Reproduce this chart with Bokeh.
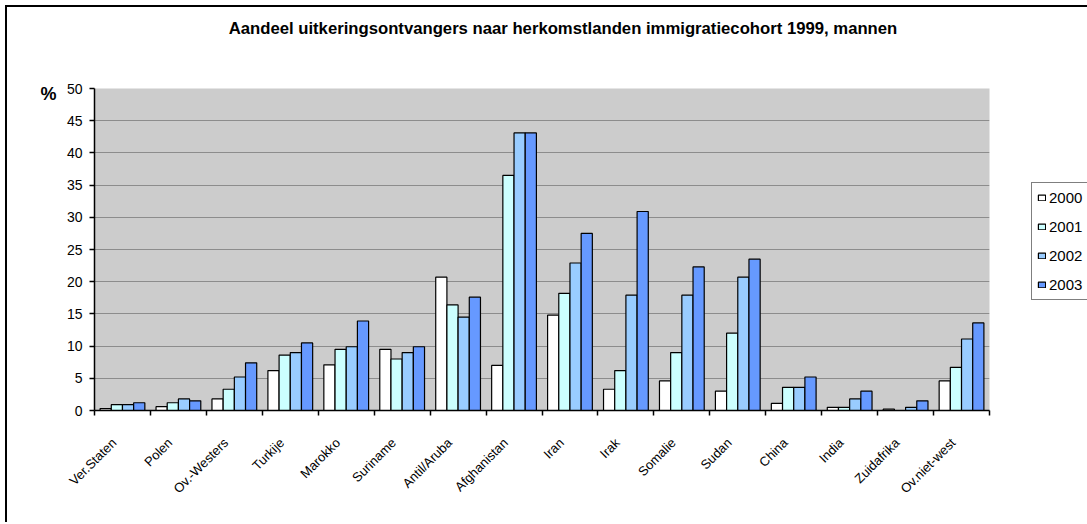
import math
from bokeh.plotting import figure
from bokeh.models import (Range1d, FixedTicker, Legend, LegendItem,
                          LinearAxis, ColumnDataSource)
from bokeh.transform import dodge
from bokeh.embed import file_html
from bokeh.resources import INLINE

# ---- data ----
countries = ["Ver.Staten", "Polen", "Ov.-Westers", "Turkije", "Marokko",
             "Suriname", "Antil/Aruba", "Afghanistan", "Iran", "Irak",
             "Somalie", "Sudan", "China", "India", "Zuidafrika", "Ov.niet-west"]
years = ["2000", "2001", "2002", "2003"]
v2000 = [0.3, 0.6, 1.8, 6.2, 7.1, 9.5, 20.7, 7.0, 14.8, 3.3, 4.6, 3.0, 1.1, 0.5, 0.2, 4.6]
v2001 = [0.9, 1.2, 3.3, 8.6, 9.5, 8.0, 16.4, 36.5, 18.2, 6.2, 9.0, 12.0, 3.6, 0.5, 0.0, 6.7]
v2002 = [0.9, 1.8, 5.2, 9.0, 9.9, 9.0, 14.5, 43.1, 22.9, 17.9, 17.9, 20.7, 3.6, 1.8, 0.5, 11.1]
v2003 = [1.2, 1.5, 7.4, 10.5, 13.9, 9.9, 17.6, 43.1, 27.5, 30.9, 22.3, 23.5, 5.2, 3.0, 1.5, 13.6]
y_ticks = [0, 5, 10, 15, 20, 25, 30, 35, 40, 45, 50]
title_text = "Aandeel uitkeringsontvangers naar herkomstlanden immigratiecohort 1999, mannen"
unit_text = "%"

colors = ["#FFFFFF", "#CCFFFF", "#99CCFF", "#6699FF"]
FONT = "Liberation Sans"

n = len(countries)
centers = [i + 0.5 for i in range(n)]
source = ColumnDataSource(dict(x=centers, y2000=v2000, y2001=v2001,
                               y2002=v2002, y2003=v2003))

p = figure(frame_width=895, frame_height=322,
           x_range=Range1d(0, n), y_range=Range1d(0, 50),
           output_backend="svg", toolbar_location=None,
           min_border_left=87, min_border_top=81,
           min_border_right=96, min_border_bottom=112,
           background_fill_color="#CCCCCC", border_fill_color="white",
           outline_line_color=None)
p.styles = {"margin-left": "5px", "margin-top": "5px",
            "border-left": "2px solid black", "border-top": "2px solid black"}
p.title.text = ""

renderers = []
for j, yr in enumerate(years):
    r = p.vbar(x=dodge("x", -0.3 + 0.2 * j), top="y" + yr, width=0.2,
               fill_color=colors[j], line_color="black", line_width=1.2,
               source=source)
    renderers.append(r)

# x axis: boundary ticks as minor ticks, labels slightly left of centre
label_pos = [round(i + 0.35, 2) for i in range(n)]
xa = p.xaxis[0]
xa.ticker = FixedTicker(ticks=label_pos, minor_ticks=list(range(n + 1)))
xa.major_label_overrides = {pos: name for pos, name in zip(label_pos, countries)}
xa.axis_line_color = "black"
xa.axis_line_width = 1.5
xa.major_tick_line_color = None
xa.major_tick_out = 5
xa.major_tick_in = 0
xa.minor_tick_line_color = "black"
xa.minor_tick_line_width = 1.5
xa.minor_tick_out = 5
xa.minor_tick_in = 0
xa.major_label_orientation = math.pi / 4
xa.major_label_standoff = 25
xa.major_label_text_font = FONT
xa.major_label_text_font_size = "13px"
xa.major_label_text_color = "black"

ya = p.yaxis[0]
ya.ticker = FixedTicker(ticks=y_ticks, minor_ticks=[])
ya.axis_line_color = "black"
ya.axis_line_width = 1.5
ya.major_tick_line_color = "black"
ya.major_tick_line_width = 1.5
ya.major_tick_out = 5
ya.major_tick_in = 0
ya.minor_tick_line_color = None
ya.major_label_standoff = 7
ya.major_label_text_font = FONT
ya.major_label_text_font_size = "14px"
ya.major_label_text_color = "black"

# unit "%" as an outer left axis with a single labelled tick
unit_pos = 49.2
ua = LinearAxis(ticker=FixedTicker(ticks=[unit_pos], minor_ticks=[]),
                major_label_overrides={unit_pos: unit_text},
                axis_line_color=None, major_tick_line_color=None,
                minor_tick_line_color=None, major_tick_out=0, major_tick_in=0,
                major_label_standoff=7, major_label_text_font=FONT,
                major_label_text_font_style="bold",
                major_label_text_font_size="18px",
                major_label_text_color="black")
p.add_layout(ua, "left")

# chart title as a single labelled tick on an axis above the plot area
title_pos = 8.375
ta = LinearAxis(ticker=FixedTicker(ticks=[title_pos], minor_ticks=[]),
                major_label_overrides={title_pos: title_text},
                axis_line_color=None, major_tick_line_color=None,
                minor_tick_line_color=None, major_tick_out=0, major_tick_in=0,
                major_label_standoff=51, major_label_text_font=FONT,
                major_label_text_font_style="bold",
                major_label_text_font_size="16.7px",
                major_label_text_color="black")
p.add_layout(ta, "above")

p.xgrid.visible = False
p.ygrid.grid_line_color = "#8C8C8C"
p.ygrid.grid_line_width = 1

legend = Legend(items=[LegendItem(label=yr, renderers=[r])
                       for yr, r in zip(years, renderers)],
                location=(42, 110), orientation="vertical",
                border_line_color="black", border_line_width=1,
                background_fill_color="white", background_fill_alpha=1.0,
                padding=5, spacing=10, margin=0,
                glyph_width=9, glyph_height=7, label_height=19,
                label_standoff=3, label_text_font=FONT,
                label_text_font_size="15px", label_text_color="black")
p.add_layout(legend, "right")

open("out.html", "w").write(file_html(p, INLINE))
